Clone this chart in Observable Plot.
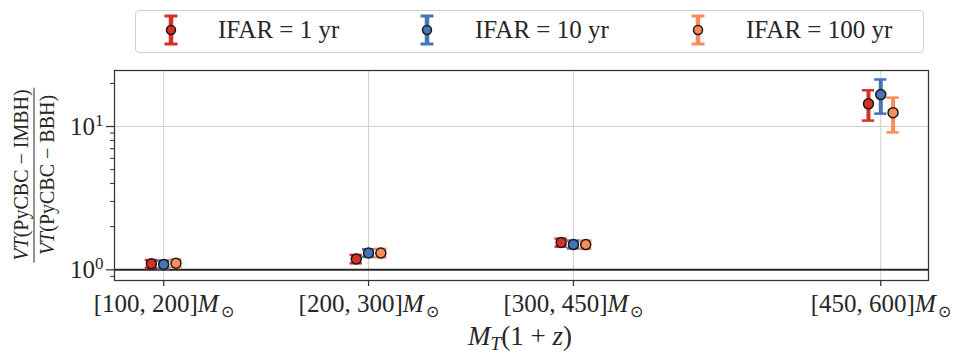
<!DOCTYPE html>
<html><head><meta charset="utf-8">
<script src="https://cdn.jsdelivr.net/npm/d3@7"></script>
<script src="https://cdn.jsdelivr.net/npm/@observablehq/plot@0.6"></script>
<style>
body{margin:0;background:#fff;font-family:"Times New Roman","Liberation Serif",Tinos,Times,serif;color:#262626;}
#wrap{position:relative;width:961px;height:364px;overflow:hidden;}
#legend{position:absolute;left:135px;top:10px;width:787px;height:41px;border:1px solid #d0d0d0;border-radius:4px;background:#fff;}
.li{position:absolute;top:0;height:41px;}
.lt{position:absolute;top:5px;font-size:25px;white-space:nowrap;}
#ylab{position:absolute;left:34px;top:175px;transform:translate(-50%,-50%) rotate(-90deg);font-size:20px;white-space:nowrap;text-align:center;}
#ylab .num{display:block;padding:0 2px 1px 2px;border-bottom:1.3px solid #262626;}
#ylab .den{display:block;padding-top:1px;}
#xlab{position:absolute;left:520px;top:321px;transform:translateX(-50%);font-size:27px;white-space:nowrap;}
#xlab sub{font-size:19px;vertical-align:-5px;}
</style></head><body>
<div id="wrap">
<div id="plot"></div>
<div id="legend"></div>
<div id="ylab"><span class="num"><i>VT</i>(PyCBC − IMBH)</span><span class="den"><i>VT</i>(PyCBC − BBH)</span></div>
<div id="xlab"><i>M</i><sub><i>T</i></sub>(1 + <i>z</i>)</div>
</div>
<script>
// ---- data ----
const categories = ["[100, 200]", "[200, 300]", "[300, 450]", "[450, 600]"];
const categoryPos = [1, 2, 3, 4.5];
const seriesNames = ["IFAR = 1 yr", "IFAR = 10 yr", "IFAR = 100 yr"];
const ifar1 = [1.10, 1.19, 1.55, 14.4];
const ifar1Lo = [1.03, 1.11, 1.45, 11.0];
const ifar1Hi = [1.17, 1.27, 1.65, 17.9];
const ifar10 = [1.09, 1.31, 1.50, 16.7];
const ifar10Lo = [1.02, 1.23, 1.41, 12.3];
const ifar10Hi = [1.16, 1.39, 1.60, 21.3];
const ifar100 = [1.11, 1.31, 1.50, 12.5];
const ifar100Lo = [1.04, 1.22, 1.40, 9.1];
const ifar100Hi = [1.18, 1.40, 1.60, 15.9];
const yMajorTicks = [1, 10];
const yMinorTicks = [0.9, 2, 3, 4, 5, 6, 7, 8, 9, 20];

// ---- config ----
const FONT = '"Times New Roman","Liberation Serif",Tinos,Times,serif';
const colors = ["#d73027", "#4575b4", "#fc8d59"];
const dodge = [-0.06, 0, 0.06];
const capHalf = 0.03;
const seriesVals = [[ifar1, ifar1Lo, ifar1Hi], [ifar10, ifar10Lo, ifar10Hi], [ifar100, ifar100Lo, ifar100Hi]];
const rows = [];
seriesVals.forEach((s, si) => categoryPos.forEach((p, ci) => rows.push({
  series: seriesNames[si], si, pos: p + dodge[si], v: s[0][ci], lo: s[1][ci], hi: s[2][ci]
})));
const col = d => colors[d.si];

const chart = Plot.plot({
  width: 961, height: 364,
  marginLeft: 114, marginRight: 33, marginTop: 70, marginBottom: 84,
  style: {fontFamily: FONT, color: "#262626", background: "transparent"},
  x: {type: "linear", domain: [0.76, 4.733]},
  y: {type: "log", domain: [0.842, 24.6]},
  marks: [
    Plot.gridX(categoryPos, {stroke: "#cfcfcf", strokeOpacity: 1, strokeWidth: 1}),
    Plot.gridY([10], {stroke: "#cfcfcf", strokeOpacity: 1, strokeWidth: 1}),
    Plot.ruleY([1], {stroke: "#262626", strokeWidth: 2}),
    Plot.ruleX(rows, {x: "pos", y1: "lo", y2: "hi", stroke: col, strokeWidth: 4}),
    Plot.ruleY(rows, {y: "lo", x1: d => d.pos - capHalf, x2: d => d.pos + capHalf, stroke: col, strokeWidth: 2.5}),
    Plot.ruleY(rows, {y: "hi", x1: d => d.pos - capHalf, x2: d => d.pos + capHalf, stroke: col, strokeWidth: 2.5}),
    Plot.dot(rows, {x: "pos", y: "v", r: 5, fill: col, stroke: "#1a1a1a", strokeWidth: 1.5}),
    Plot.frame({stroke: "#333", strokeWidth: 1.25}),
    Plot.axisX(categoryPos, {tickSize: 6, tickPadding: 8, fontSize: 25, stroke: "#333", strokeWidth: 1.25, label: null,
      tickFormat: d => categories[categoryPos.indexOf(d)]}),
    Plot.axisY(yMajorTicks, {tickSize: 8, tickPadding: 3, fontSize: 25, stroke: "#333", strokeWidth: 1.25, label: null,
      tickFormat: d => String(Math.round(Math.log10(d)))}),
    Plot.axisY(yMinorTicks, {tickSize: 4, stroke: "#333", strokeWidth: 1, label: null, tickFormat: () => ""})
  ]
});
document.getElementById("plot").appendChild(chart);

// math-style tick labels
const NS = "http://www.w3.org/2000/svg";
const svg = chart.tagName === "svg" ? chart : chart.querySelector("svg");
svg.querySelectorAll('g[aria-label="x-axis tick label"] text').forEach(t => {
  const s = t.textContent; t.textContent = "";
  t.appendChild(document.createTextNode(s));
  const m = document.createElementNS(NS, "tspan"); m.setAttribute("font-style", "italic"); m.textContent = "M"; t.appendChild(m);
  const o = document.createElementNS(NS, "tspan"); o.setAttribute("font-size", "16"); o.setAttribute("dy", "5"); o.setAttribute("dx", "2"); o.textContent = "⊙"; t.appendChild(o);
});
svg.querySelectorAll('g[aria-label="y-axis tick label"] text').forEach(t => {
  const e = t.textContent; if (!e) return; t.textContent = "";
  t.appendChild(document.createTextNode("10"));
  const s = document.createElementNS(NS, "tspan"); s.setAttribute("font-size", "17"); s.setAttribute("dy", "-9"); s.textContent = e; t.appendChild(s);
});

// legend
const legend = document.getElementById("legend");
const markerX = [35, 291, 562];
const textX = [82, 339, 610];
seriesNames.forEach((n, i) => {
  const d = document.createElement("div"); d.className = "li"; d.style.left = (markerX[i] - 8) + "px";
  d.innerHTML = `<svg width="16" height="41"><line x1="8" x2="8" y1="5" y2="33" stroke="${colors[i]}" stroke-width="4.5"/>` +
    `<line x1="1.5" x2="14.5" y1="5" y2="5" stroke="${colors[i]}" stroke-width="3"/><line x1="1.5" x2="14.5" y1="33" y2="33" stroke="${colors[i]}" stroke-width="3"/>` +
    `<circle cx="8" cy="19" r="4.5" fill="${colors[i]}" stroke="#1a1a1a" stroke-width="1.5"/></svg>`;
  legend.appendChild(d);
  const t = document.createElement("div"); t.className = "lt"; t.style.left = textX[i] + "px"; t.textContent = n;
  legend.appendChild(t);
});
</script>
</body></html>
